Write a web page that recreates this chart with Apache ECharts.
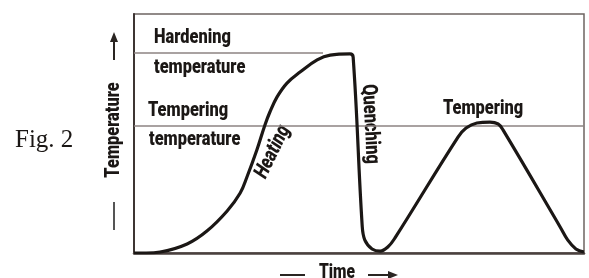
<!DOCTYPE html>
<html>
<head>
<meta charset="utf-8">
<script src="https://cdn.jsdelivr.net/npm/echarts@6/dist/echarts.min.js"></script>
<style>
  html, body { margin: 0; padding: 0; background: #fff; }
  #chart { width: 589px; height: 278px; }
</style>
</head>
<body>
<div id="chart"></div>
<script>
// heat treatment cycle, time / temperature in relative units (0-100)
var cycleTime = [0, 2.7, 5.8, 11.8, 16.2, 20.7, 23.6, 25.1, 27.3, 29.1, 30.2, 31.8, 34, 36.9,
    40.7, 43.6, 48, 48.7, 50.7, 51.3, 52.9, 54.7, 56.4, 58, 72, 73.8, 76.2, 79.1, 80.9, 82,
    94.7, 96.4, 98.2, 100];
var cycleTemp = [0, 0, 0.4, 3.8, 9.2, 17.6, 25.1, 31.8, 43.1, 53.6, 59, 65.3, 71.1, 75.7,
    80.8, 82.8, 83.3, 82, 11.7, 5.4, 1.7, 0.8, 2.5, 6.3, 48.5, 52.3, 54.4, 54.8, 54, 51.5,
    10.9, 5.4, 1.7, 0.4];
var hardeningTemp = 83.7;
var hardeningEnd = 42;
var temperingTemp = 53.1;
var levelTexts = [['Hardening', 'temperature'], ['Tempering', 'temperature']];
var curveTexts = ['Heating', 'Quenching', 'Tempering'];
var axisNames = ['Temperature', 'Time'];

var narrow = 'Roboto, "DejaVu Sans Condensed", sans-serif';
var ink = '#1b1715';

var chart = echarts.init(document.getElementById('chart'));

var curve = [];
for (var i = 0; i < cycleTime.length; i++) {
    curve.push([cycleTime[i], cycleTemp[i]]);
}

function txt(str, x, y, opt) {
    opt = opt || {};
    return {
        type: 'text',
        x: x,
        y: y,
        rotation: (opt.rot || 0) * Math.PI / 180,
        scaleX: opt.sx || 0.78,
        style: {
            text: str,
            fill: ink,
            font: (opt.italic ? 'italic ' : '') + (opt.weight || '900') + ' ' + (opt.size || 21) + 'px ' + (opt.family || narrow),
            align: opt.align || 'center',
            verticalAlign: 'middle'
        }
    };
}

var graphics = [
    txt(levelTexts[0][0], 154, 38, {align: 'left'}),
    txt(levelTexts[0][1], 154, 68, {align: 'left'}),
    txt(levelTexts[1][0], 148, 111, {align: 'left'}),
    txt(levelTexts[1][1], 149, 140, {align: 'left'}),
    txt(curveTexts[0], 273, 152, {rot: 64, italic: true}),
    txt(curveTexts[1], 370, 124, {rot: -87}),
    txt(curveTexts[2], 483, 109),
    txt(axisNames[0], 114, 130, {rot: 90}),
    txt(axisNames[1], 337, 273, {size: 20}),
    txt('Fig. 2', 15, 140, {align: 'left', weight: 'normal', size: 25, sx: 1, family: '"Liberation Serif", "Times New Roman", serif'}),
    // arrows beside axis names
    {type: 'line', shape: {x1: 114, y1: 60, x2: 114, y2: 40}, style: {stroke: '#2a2522', lineWidth: 2}},
    {type: 'polygon', shape: {points: [[110, 42], [118, 42], [114, 32]]}, style: {fill: '#2a2522'}},
    {type: 'line', shape: {x1: 114, y1: 202, x2: 114, y2: 230}, style: {stroke: '#555', lineWidth: 2}},
    {type: 'line', shape: {x1: 280, y1: 275, x2: 305, y2: 275}, style: {stroke: '#2a2522', lineWidth: 2}},
    {type: 'line', shape: {x1: 368, y1: 275, x2: 390, y2: 275}, style: {stroke: '#2a2522', lineWidth: 2}},
    {type: 'polygon', shape: {points: [[388, 271], [388, 279], [398, 275]]}, style: {fill: '#2a2522'}}
];

chart.setOption({
    animation: false,
    backgroundColor: '#fff',
    grid: {
        left: 134,
        right: 5,
        top: 14,
        bottom: 25,
        show: true,
        borderColor: '#6e6462',
        borderWidth: 1.5
    },
    xAxis: {
        type: 'value',
        min: 0,
        max: 100,
        axisLine: {show: true, onZero: false, lineStyle: {color: '#4a403e', width: 2.5}},
        axisTick: {show: false},
        axisLabel: {show: false},
        splitLine: {show: false}
    },
    yAxis: {
        type: 'value',
        min: 0,
        max: 100,
        axisLine: {show: true, lineStyle: {color: '#3e3533', width: 2}},
        axisTick: {show: false},
        axisLabel: {show: false},
        splitLine: {show: false}
    },
    series: [{
        type: 'line',
        data: [[0, hardeningTemp], [hardeningEnd, hardeningTemp]],
        symbol: 'none',
        lineStyle: {color: '#8c8382', width: 1.5},
        z: 1
    }, {
        type: 'line',
        data: [[0, temperingTemp], [100, temperingTemp]],
        symbol: 'none',
        lineStyle: {color: '#8c8382', width: 1.5},
        z: 1
    }, {
        type: 'line',
        data: curve,
        symbol: 'none',
        smooth: 0.4,
        lineStyle: {color: ink, width: 3.2},
        z: 3
    }],
    graphic: graphics
});
</script>
</body>
</html>
